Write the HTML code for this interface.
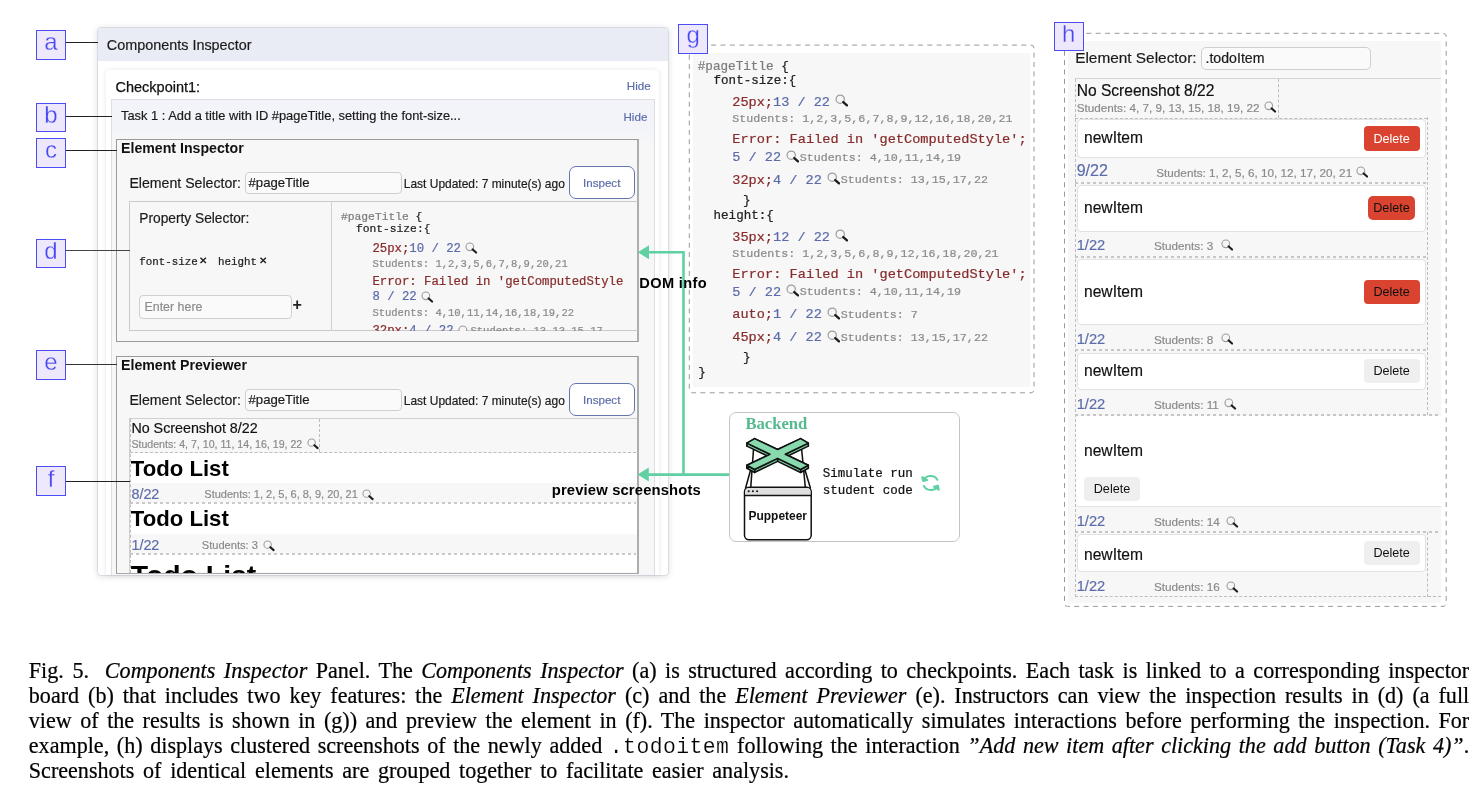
<!DOCTYPE html>
<html><head><meta charset="utf-8"><title>Fig 5</title>
<style>
html,body{margin:0;padding:0;background:#fff;font-family:"Liberation Sans",sans-serif;}
body{width:1482px;height:798px;position:relative;overflow:hidden;font-family:"Liberation Sans",sans-serif;}
body div, body svg{position:absolute;}
.t{white-space:pre;}
.t span, div span, div i{position:static;}
</style></head><body><div id="root" style="left:0;top:0;width:1482px;height:798px;will-change:transform;">
<div class="" style="left:97.00px;top:27.00px;width:572.00px;height:549.00px;background:#fff;border:1px solid #d9dbe2;border-radius:4px;box-sizing:border-box;box-shadow:0 1px 6px rgba(0,0,0,.12);overflow:hidden;"><div style="position:absolute;left:0;top:0;right:0;height:33px;background:#e9ecf4"></div></div>
<div class="t" style="left:106.80px;top:38.31px;font:normal 14.4px/14.4px 'Liberation Sans', sans-serif;color:#1a1a1a;-webkit-text-stroke:.18px;">Components Inspector</div>
<div class="" style="left:106.30px;top:69.70px;width:553.10px;height:505.30px;background:#fff;border-radius:4px 4px 0 0;box-shadow:0 0 5px rgba(0,0,0,.10);"></div>
<div class="t" style="left:115.50px;top:79.63px;font:normal 14.5px/14.5px 'Liberation Sans', sans-serif;color:#111;-webkit-text-stroke:.25px #111;">Checkpoint1:</div>
<div class="t" style="left:626.80px;top:80.38px;font:normal 11.6px/11.6px 'Liberation Sans', sans-serif;color:#5c6caa;-webkit-text-stroke:.18px;">Hide</div>
<div class="" style="left:111.00px;top:99.00px;width:544.00px;height:476.00px;background:linear-gradient(#f3f4f9 0,#f3f4f9 30px,#f7f7f8 42px);border:1px solid #dddde2;border-bottom:none;box-sizing:border-box;"></div>
<div class="t" style="left:121.00px;top:109.71px;font:normal 12.87px/12.87px 'Liberation Sans', sans-serif;color:#1a1a1a;-webkit-text-stroke:.18px;">Task 1 : Add a title with ID #pageTitle, setting the font-size...</div>
<div class="t" style="left:623.50px;top:110.58px;font:normal 11.6px/11.6px 'Liberation Sans', sans-serif;color:#5c6caa;-webkit-text-stroke:.18px;">Hide</div>
<div class="" style="left:116.00px;top:139.00px;width:522.60px;height:203.00px;background:#f7f7f7;border:1px solid #9a9a9a;border-right:2px solid #adadad;box-sizing:border-box;"></div>
<div class="t" style="left:121.00px;top:141.41px;font:bold 14.16px/14.16px 'Liberation Sans', sans-serif;color:#111;">Element Inspector</div>
<div class="t" style="left:129.40px;top:175.84px;font:normal 14.13px/14.13px 'Liberation Sans', sans-serif;color:#1a1a1a;-webkit-text-stroke:.18px;">Element Selector:</div>
<div class="" style="left:245.40px;top:172.00px;width:156.60px;height:21.60px;background:#fafafa;border:1px solid #cfcfcf;border-radius:4px;box-sizing:border-box;"></div>
<div class="t" style="left:248.50px;top:176.15px;font:normal 13.17px/13.17px 'Liberation Sans', sans-serif;color:#1a1a1a;-webkit-text-stroke:.18px;">#pageTitle</div>
<div class="t" style="left:403.80px;top:177.76px;font:normal 11.98px/11.98px 'Liberation Sans', sans-serif;color:#1a1a1a;-webkit-text-stroke:.18px;">Last Updated: 7 minute(s) ago</div>
<div class="" style="left:568.50px;top:166.00px;width:66.10px;height:32.60px;background:#fff;border:1.8px solid #6575ae;border-radius:7px;box-sizing:border-box;"></div>
<div class="t" style="left:583.00px;top:176.78px;font:normal 11.6px/11.6px 'Liberation Sans', sans-serif;color:#5c6caa;-webkit-text-stroke:.18px;">Inspect</div>
<div class="" style="left:129.40px;top:200.70px;width:508.60px;height:130.30px;border:1px solid #c9c9c9;border-right:none;box-sizing:border-box;"></div>
<div class="" style="left:331.00px;top:201.00px;width:1.00px;height:130.00px;background:#d2d2d2;"></div>
<div class="t" style="left:139.30px;top:211.87px;font:normal 13.74px/13.74px 'Liberation Sans', sans-serif;color:#1a1a1a;-webkit-text-stroke:.18px;">Property Selector:</div>
<div class="t" style="left:139.30px;top:256.68px;font:normal 10.85px/10.85px 'Liberation Mono', monospace;color:#222;-webkit-text-stroke:.22px;">font-size</div>
<div class="t" style="left:199.30px;top:256.00px;font:bold 10.4px/10.4px 'Liberation Sans', sans-serif;color:#222;">&#10005;</div>
<div class="t" style="left:218.00px;top:256.68px;font:normal 10.85px/10.85px 'Liberation Mono', monospace;color:#222;-webkit-text-stroke:.22px;">height</div>
<div class="t" style="left:258.50px;top:256.00px;font:bold 10.4px/10.4px 'Liberation Sans', sans-serif;color:#222;">&#10005;</div>
<div class="" style="left:139.30px;top:294.60px;width:152.40px;height:24.40px;background:#fafafa;border:1px solid #cfcfcf;border-radius:4px;box-sizing:border-box;"></div>
<div class="t" style="left:144.50px;top:300.99px;font:normal 12.42px/12.42px 'Liberation Sans', sans-serif;color:#8b8b8b;-webkit-text-stroke:.18px;">Enter here</div>
<div class="t" style="left:292.60px;top:297.06px;font:bold 16px/16px 'Liberation Sans', sans-serif;color:#222;">+</div>
<div class="a" style="left:333px;top:201px;width:304px;height:129.6px;overflow:hidden">
<div class="t" style="left:8.00px;top:10.74px;font:normal 11.3px/11.3px 'Liberation Mono', monospace;color:#222;-webkit-text-stroke:.22px;"><span style="color:#7d7d7d">#pageTitle</span> {</div>
<div class="t" style="left:22.90px;top:23.44px;font:normal 11.3px/11.3px 'Liberation Mono', monospace;color:#222;-webkit-text-stroke:.22px;">font-size:{</div>
<div class="t" style="left:39.40px;top:41.57px;font:normal 12.3px/12.3px 'Liberation Mono', monospace;color:#222;-webkit-text-stroke:.22px;"><span style="color:#882c2c">25px;</span><span style="color:#5c6caa">10 / 22</span></div>
<div class="t" style="left:39.40px;top:58.35px;font:normal 10.5px/10.5px 'Liberation Mono', monospace;color:#8a8a8a;-webkit-text-stroke:.22px;">Students: 1,2,3,5,6,7,8,9,20,21</div>
<div class="t" style="left:39.40px;top:75.37px;font:normal 12.3px/12.3px 'Liberation Mono', monospace;color:#882c2c;-webkit-text-stroke:.22px;">Error: Failed in 'getComputedStyle</div>
<div class="t" style="left:39.40px;top:90.37px;font:normal 12.3px/12.3px 'Liberation Mono', monospace;color:#5c6caa;-webkit-text-stroke:.22px;">8 / 22</div>
<div class="t" style="left:39.40px;top:106.95px;font:normal 10.5px/10.5px 'Liberation Mono', monospace;color:#8a8a8a;-webkit-text-stroke:.22px;">Students: 4,10,11,14,16,18,19,22</div>
<div class="t" style="left:39.40px;top:123.77px;font:normal 12.3px/12.3px 'Liberation Mono', monospace;color:#222;-webkit-text-stroke:.22px;"><span style="color:#882c2c">32px;</span><span style="color:#5c6caa">4 / 22</span></div>
<div class="t" style="left:137.50px;top:125.15px;font:normal 10.5px/10.5px 'Liberation Mono', monospace;color:#8a8a8a;-webkit-text-stroke:.22px;">Students: 13,13,15,17</div>
<svg class="a" style="left:125.00px;top:123.50px" width="12.5" height="12.5" viewBox="0 0 14 14"><circle cx="5.4" cy="5.4" r="4.3" fill="#f6f6f6" stroke="#9d9d9d" stroke-width="1.25"/><path d="M8.6 8.4 L12.4 11.8" stroke="#1c1c1c" stroke-width="2.4" stroke-linecap="round"/></svg>
</div>
<svg class="a" style="left:465.00px;top:241.50px" width="12.5" height="12.5" viewBox="0 0 14 14"><circle cx="5.4" cy="5.4" r="4.3" fill="#f6f6f6" stroke="#9d9d9d" stroke-width="1.25"/><path d="M8.6 8.4 L12.4 11.8" stroke="#1c1c1c" stroke-width="2.4" stroke-linecap="round"/></svg>
<svg class="a" style="left:421.00px;top:290.50px" width="12.5" height="12.5" viewBox="0 0 14 14"><circle cx="5.4" cy="5.4" r="4.3" fill="#f6f6f6" stroke="#9d9d9d" stroke-width="1.25"/><path d="M8.6 8.4 L12.4 11.8" stroke="#1c1c1c" stroke-width="2.4" stroke-linecap="round"/></svg>
<div class="" style="left:116.00px;top:356.00px;width:522.60px;height:217.50px;background:#f7f7f7;border:1px solid #9a9a9a;border-right:2px solid #adadad;border-bottom:1.5px solid #a8a8a8;box-sizing:border-box;"></div>
<div class="t" style="left:121.00px;top:358.01px;font:bold 14.16px/14.16px 'Liberation Sans', sans-serif;color:#111;">Element Previewer</div>
<div class="t" style="left:129.40px;top:392.64px;font:normal 14.13px/14.13px 'Liberation Sans', sans-serif;color:#1a1a1a;-webkit-text-stroke:.18px;">Element Selector:</div>
<div class="" style="left:245.40px;top:389.20px;width:156.60px;height:21.60px;background:#fafafa;border:1px solid #cfcfcf;border-radius:4px;box-sizing:border-box;"></div>
<div class="t" style="left:248.50px;top:393.05px;font:normal 13.17px/13.17px 'Liberation Sans', sans-serif;color:#1a1a1a;-webkit-text-stroke:.18px;">#pageTitle</div>
<div class="t" style="left:403.80px;top:395.06px;font:normal 11.98px/11.98px 'Liberation Sans', sans-serif;color:#1a1a1a;-webkit-text-stroke:.18px;">Last Updated: 7 minute(s) ago</div>
<div class="" style="left:568.50px;top:383.40px;width:66.10px;height:32.60px;background:#fff;border:1.8px solid #6575ae;border-radius:7px;box-sizing:border-box;"></div>
<div class="t" style="left:583.00px;top:394.18px;font:normal 11.6px/11.6px 'Liberation Sans', sans-serif;color:#5c6caa;-webkit-text-stroke:.18px;">Inspect</div>
<div class="a" style="left:129.4px;top:418px;width:508px;height:155px;overflow:hidden;border-top:1px solid #cfcfcf;border-left:1px solid #cfcfcf;box-sizing:border-box">
</div>
<div class="" style="left:130.40px;top:452.50px;width:506.60px;height:30.20px;background:#fff;"></div>
<div class="" style="left:130.40px;top:503.30px;width:506.60px;height:30.70px;background:#fff;"></div>
<div class="" style="left:130.40px;top:554.20px;width:506.60px;height:18.30px;background:#fff;"></div>
<div class="a" style="left:130px;top:451.6px;width:506px;height:0;border-top:1px dashed #bdbdbd"></div>
<div class="a" style="left:130px;top:501.80px;width:506px;height:2px;background:repeating-linear-gradient(90deg,#cacaca 0 3px,transparent 3px 6px)"></div>
<div class="a" style="left:130px;top:552.70px;width:506px;height:2px;background:repeating-linear-gradient(90deg,#cacaca 0 3px,transparent 3px 6px)"></div>
<div class="a" style="left:319.1px;top:418.5px;height:33.5px;width:0;border-left:1px dashed #bdbdbd"></div>
<div class="a" style="left:129.5px;top:418.5px;height:154.5px;width:0;border-left:1px dashed #bdbdbd"></div>
<div class="t" style="left:131.40px;top:420.90px;font:normal 14.29px/14.29px 'Liberation Sans', sans-serif;color:#111;-webkit-text-stroke:.18px;">No Screenshot 8/22</div>
<div class="t" style="left:131.40px;top:438.61px;font:normal 10.62px/10.62px 'Liberation Sans', sans-serif;color:#8a8a8a;-webkit-text-stroke:.18px;">Students: 4, 7, 10, 11, 14, 16, 19, 22</div>
<svg class="a" style="left:307.00px;top:437.50px" width="12" height="12" viewBox="0 0 14 14"><circle cx="5.4" cy="5.4" r="4.3" fill="#f6f6f6" stroke="#9d9d9d" stroke-width="1.25"/><path d="M8.6 8.4 L12.4 11.8" stroke="#1c1c1c" stroke-width="2.4" stroke-linecap="round"/></svg>
<div class="t" style="left:130.80px;top:457.55px;font:bold 22.15px/22.15px 'Liberation Sans', sans-serif;color:#000;">Todo List</div>
<div class="t" style="left:131.40px;top:487.32px;font:normal 14.39px/14.39px 'Liberation Sans', sans-serif;color:#5c6caa;-webkit-text-stroke:.18px;">8/22</div>
<div class="t" style="left:204.30px;top:489.29px;font:normal 11.0px/11.0px 'Liberation Sans', sans-serif;color:#8a8a8a;-webkit-text-stroke:.18px;">Students: 1, 2, 5, 6, 8, 9, 20, 21</div>
<svg class="a" style="left:361.50px;top:488.50px" width="12" height="12" viewBox="0 0 14 14"><circle cx="5.4" cy="5.4" r="4.3" fill="#f6f6f6" stroke="#9d9d9d" stroke-width="1.25"/><path d="M8.6 8.4 L12.4 11.8" stroke="#1c1c1c" stroke-width="2.4" stroke-linecap="round"/></svg>
<div class="t" style="left:130.80px;top:508.45px;font:bold 22.15px/22.15px 'Liberation Sans', sans-serif;color:#000;">Todo List</div>
<div class="t" style="left:131.40px;top:538.22px;font:normal 14.39px/14.39px 'Liberation Sans', sans-serif;color:#5c6caa;-webkit-text-stroke:.18px;">1/22</div>
<div class="t" style="left:201.80px;top:540.40px;font:normal 11.1px/11.1px 'Liberation Sans', sans-serif;color:#8a8a8a;-webkit-text-stroke:.18px;">Students: 3</div>
<svg class="a" style="left:263.00px;top:539.50px" width="12" height="12" viewBox="0 0 14 14"><circle cx="5.4" cy="5.4" r="4.3" fill="#f6f6f6" stroke="#9d9d9d" stroke-width="1.25"/><path d="M8.6 8.4 L12.4 11.8" stroke="#1c1c1c" stroke-width="2.4" stroke-linecap="round"/></svg>
<div class="a" style="left:130.4px;top:554.5px;width:300px;height:18px;overflow:hidden">
<div class="t" style="left:0.30px;top:6.96px;font:bold 28.4px/28.4px 'Liberation Sans', sans-serif;color:#000;">Todo List</div>
</div>
<svg class="a" style="left:630px;top:240px" width="110" height="245" viewBox="630 240 110 245"><path d="M648 252.3 H683.5 V474.6 M648 474.6 H729.5" fill="none" stroke="#5fd0a2" stroke-width="2.6"/><path d="M637.9 252.3 L649 245.3 V259.3 Z M637.6 474.6 L648.8 467.6 V481.6 Z" fill="#5fd0a2"/></svg>
<div class="t" style="left:551.80px;top:482.77px;font:bold 14.8px/14.8px 'Liberation Sans', sans-serif;color:#000;letter-spacing:.14px;">preview screenshots</div>
<div class="" style="left:678.30px;top:24.40px;width:29.70px;height:29.20px;background:#eee8fc;border:1.5px solid #4d4df6;box-sizing:border-box;"></div>
<div class="t" style="left:678.30px;width:29.70px;text-align:center;top:23.40px;font:normal 24px/24px 'Liberation Sans', sans-serif;color:#4646f2;-webkit-text-stroke:.3px #eee8fc;">g</div>
<svg class="a" style="left:685px;top:40px" width="355" height="358" viewBox="685 40 355 358"><rect x="689.3" y="45.1" width="344.7" height="347.7" rx="3" fill="none" stroke="#999" stroke-width="1" stroke-dasharray="5 4.4"/></svg>
<div class="" style="left:693.00px;top:52.80px;width:337.00px;height:333.90px;background:#f7f7f7;"></div>
<div class="" style="left:678.30px;top:24.40px;width:29.70px;height:29.20px;background:#eee8fc;border:1.5px solid #4d4df6;box-sizing:border-box;"></div>
<div class="t" style="left:678.30px;width:29.70px;text-align:center;top:23.40px;font:normal 24px/24px 'Liberation Sans', sans-serif;color:#4646f2;-webkit-text-stroke:.3px #eee8fc;">g</div>
<div class="t" style="left:697.70px;top:60.79px;font:normal 12.67px/12.67px 'Liberation Mono', monospace;color:#222;-webkit-text-stroke:.22px;"><span style="color:#7d7d7d">#pageTitle</span> {</div>
<div class="t" style="left:713.60px;top:75.30px;font:normal 12.53px/12.53px 'Liberation Mono', monospace;color:#222;-webkit-text-stroke:.22px;">font-size:{</div>
<div class="t" style="left:732.30px;top:96.00px;font:normal 13.57px/13.57px 'Liberation Mono', monospace;color:#222;-webkit-text-stroke:.22px;"><span style="color:#882c2c">25px;</span><span style="color:#5c6caa">13 / 22</span></div>
<svg class="a" style="left:834.60px;top:94.30px" width="13.5" height="13.5" viewBox="0 0 14 14"><circle cx="5.4" cy="5.4" r="4.3" fill="#f6f6f6" stroke="#9d9d9d" stroke-width="1.25"/><path d="M8.6 8.4 L12.4 11.8" stroke="#1c1c1c" stroke-width="2.4" stroke-linecap="round"/></svg>
<div class="t" style="left:732.30px;top:114.35px;font:normal 11.68px/11.68px 'Liberation Mono', monospace;color:#8a8a8a;-webkit-text-stroke:.22px;">Students: 1,2,3,5,6,7,8,9,12,16,18,20,21</div>
<div class="t" style="left:732.30px;top:133.35px;font:normal 13.63px/13.63px 'Liberation Mono', monospace;color:#882c2c;-webkit-text-stroke:.22px;">Error: Failed in 'getComputedStyle';</div>
<div class="t" style="left:732.30px;top:151.10px;font:normal 13.57px/13.57px 'Liberation Mono', monospace;color:#5c6caa;-webkit-text-stroke:.22px;">5 / 22</div>
<svg class="a" style="left:785.50px;top:149.50px" width="13.5" height="13.5" viewBox="0 0 14 14"><circle cx="5.4" cy="5.4" r="4.3" fill="#f6f6f6" stroke="#9d9d9d" stroke-width="1.25"/><path d="M8.6 8.4 L12.4 11.8" stroke="#1c1c1c" stroke-width="2.4" stroke-linecap="round"/></svg>
<div class="t" style="left:799.80px;top:152.55px;font:normal 11.68px/11.68px 'Liberation Mono', monospace;color:#8a8a8a;-webkit-text-stroke:.22px;">Students: 4,10,11,14,19</div>
<div class="t" style="left:732.30px;top:173.70px;font:normal 13.57px/13.57px 'Liberation Mono', monospace;color:#222;-webkit-text-stroke:.22px;"><span style="color:#882c2c">32px;</span><span style="color:#5c6caa">4 / 22</span></div>
<svg class="a" style="left:826.50px;top:172.00px" width="13.5" height="13.5" viewBox="0 0 14 14"><circle cx="5.4" cy="5.4" r="4.3" fill="#f6f6f6" stroke="#9d9d9d" stroke-width="1.25"/><path d="M8.6 8.4 L12.4 11.8" stroke="#1c1c1c" stroke-width="2.4" stroke-linecap="round"/></svg>
<div class="t" style="left:840.80px;top:175.15px;font:normal 11.68px/11.68px 'Liberation Mono', monospace;color:#8a8a8a;-webkit-text-stroke:.22px;">Students: 13,15,17,22</div>
<div class="t" style="left:743.00px;top:194.50px;font:normal 12.53px/12.53px 'Liberation Mono', monospace;color:#222;-webkit-text-stroke:.22px;">}</div>
<div class="t" style="left:713.60px;top:210.40px;font:normal 12.53px/12.53px 'Liberation Mono', monospace;color:#222;-webkit-text-stroke:.22px;">height:{</div>
<div class="t" style="left:732.30px;top:230.60px;font:normal 13.57px/13.57px 'Liberation Mono', monospace;color:#222;-webkit-text-stroke:.22px;"><span style="color:#882c2c">35px;</span><span style="color:#5c6caa">12 / 22</span></div>
<svg class="a" style="left:834.60px;top:229.00px" width="13.5" height="13.5" viewBox="0 0 14 14"><circle cx="5.4" cy="5.4" r="4.3" fill="#f6f6f6" stroke="#9d9d9d" stroke-width="1.25"/><path d="M8.6 8.4 L12.4 11.8" stroke="#1c1c1c" stroke-width="2.4" stroke-linecap="round"/></svg>
<div class="t" style="left:732.30px;top:249.25px;font:normal 11.68px/11.68px 'Liberation Mono', monospace;color:#8a8a8a;-webkit-text-stroke:.22px;">Students: 1,2,3,5,6,8,9,12,16,18,20,21</div>
<div class="t" style="left:732.30px;top:268.25px;font:normal 13.63px/13.63px 'Liberation Mono', monospace;color:#882c2c;-webkit-text-stroke:.22px;">Error: Failed in 'getComputedStyle';</div>
<div class="t" style="left:732.30px;top:285.80px;font:normal 13.57px/13.57px 'Liberation Mono', monospace;color:#5c6caa;-webkit-text-stroke:.22px;">5 / 22</div>
<svg class="a" style="left:785.50px;top:284.20px" width="13.5" height="13.5" viewBox="0 0 14 14"><circle cx="5.4" cy="5.4" r="4.3" fill="#f6f6f6" stroke="#9d9d9d" stroke-width="1.25"/><path d="M8.6 8.4 L12.4 11.8" stroke="#1c1c1c" stroke-width="2.4" stroke-linecap="round"/></svg>
<div class="t" style="left:799.80px;top:287.25px;font:normal 11.68px/11.68px 'Liberation Mono', monospace;color:#8a8a8a;-webkit-text-stroke:.22px;">Students: 4,10,11,14,19</div>
<div class="t" style="left:732.30px;top:308.30px;font:normal 13.57px/13.57px 'Liberation Mono', monospace;color:#222;-webkit-text-stroke:.22px;"><span style="color:#882c2c">auto;</span><span style="color:#5c6caa">1 / 22</span></div>
<svg class="a" style="left:826.50px;top:306.70px" width="13.5" height="13.5" viewBox="0 0 14 14"><circle cx="5.4" cy="5.4" r="4.3" fill="#f6f6f6" stroke="#9d9d9d" stroke-width="1.25"/><path d="M8.6 8.4 L12.4 11.8" stroke="#1c1c1c" stroke-width="2.4" stroke-linecap="round"/></svg>
<div class="t" style="left:840.80px;top:309.75px;font:normal 11.68px/11.68px 'Liberation Mono', monospace;color:#8a8a8a;-webkit-text-stroke:.22px;">Students: 7</div>
<div class="t" style="left:732.30px;top:331.10px;font:normal 13.57px/13.57px 'Liberation Mono', monospace;color:#222;-webkit-text-stroke:.22px;"><span style="color:#882c2c">45px;</span><span style="color:#5c6caa">4 / 22</span></div>
<svg class="a" style="left:826.50px;top:329.50px" width="13.5" height="13.5" viewBox="0 0 14 14"><circle cx="5.4" cy="5.4" r="4.3" fill="#f6f6f6" stroke="#9d9d9d" stroke-width="1.25"/><path d="M8.6 8.4 L12.4 11.8" stroke="#1c1c1c" stroke-width="2.4" stroke-linecap="round"/></svg>
<div class="t" style="left:840.80px;top:332.55px;font:normal 11.68px/11.68px 'Liberation Mono', monospace;color:#8a8a8a;-webkit-text-stroke:.22px;">Students: 13,15,17,22</div>
<div class="t" style="left:743.00px;top:351.90px;font:normal 12.53px/12.53px 'Liberation Mono', monospace;color:#222;-webkit-text-stroke:.22px;">}</div>
<div class="t" style="left:698.20px;top:367.40px;font:normal 12.53px/12.53px 'Liberation Mono', monospace;color:#222;-webkit-text-stroke:.22px;">}</div>
<div class="t" style="left:639.30px;top:276.44px;font:bold 14.6px/14.6px 'Liberation Sans', sans-serif;color:#000;letter-spacing:.35px;">DOM info</div>
<div class="" style="left:729.20px;top:412.00px;width:230.80px;height:130.20px;background:#fff;border:1px solid #c4c4c4;border-radius:7px;box-sizing:border-box;"></div>
<div class="t" style="left:745.40px;top:415.56px;font:bold 16.65px/16.65px 'Liberation Serif', serif;color:#56b98f;">Backend</div>
<svg class="a" style="left:738px;top:432px" width="80" height="112" viewBox="738 432 80 112">
<g stroke="#111" stroke-width="1.55" stroke-linejoin="round" stroke-linecap="round">
<path d="M753.6 448 L750.8 487 M750.6 470 L745.6 488 M801.5 448 L805.3 487 M805 470 L810.4 488" fill="none"/>
<path d="M746.9 443.1 L754.6 438.6 L754.6 441.6 L746.9 446.1 Z" fill="#76cb9f"/><path d="M754.6 438.6 L777.6 449.5 L777.6 452.5 L754.6 441.6 Z" fill="#76cb9f"/><path d="M777.6 449.5 L800.6 438.6 L800.6 441.6 L777.6 452.5 Z" fill="#76cb9f"/><path d="M800.6 438.6 L808.3 443.1 L808.3 446.1 L800.6 441.6 Z" fill="#76cb9f"/><path d="M808.3 443.1 L785.3 454.3 L785.3 457.3 L808.3 446.1 Z" fill="#76cb9f"/><path d="M785.3 454.3 L808.3 465.2 L808.3 468.2 L785.3 457.3 Z" fill="#76cb9f"/><path d="M808.3 465.2 L800.6 469.5 L800.6 472.5 L808.3 468.2 Z" fill="#76cb9f"/><path d="M800.6 469.5 L777.6 458.4 L777.6 461.4 L800.6 472.5 Z" fill="#76cb9f"/><path d="M777.6 458.4 L754.6 469.5 L754.6 472.5 L777.6 461.4 Z" fill="#76cb9f"/><path d="M754.6 469.5 L746.9 465.2 L746.9 468.2 L754.6 472.5 Z" fill="#76cb9f"/><path d="M746.9 465.2 L769.9 454.3 L769.9 457.3 L746.9 468.2 Z" fill="#76cb9f"/><path d="M769.9 454.3 L746.9 443.1 L746.9 446.1 L769.9 457.3 Z" fill="#76cb9f"/>
<path d="M746.9 443.1 L754.6 438.6 L777.6 449.5 L800.6 438.6 L808.3 443.1 L785.3 454.3 L808.3 465.2 L800.6 469.5 L777.6 458.4 L754.6 469.5 L746.9 465.2 L769.9 454.3 Z" fill="#88d9ae"/>
</g>
<rect x="744.5" y="487.2" width="66.7" height="52.6" rx="4.5" fill="#fff" stroke="#111" stroke-width="1.5"/>
<path d="M745.3 495.3 V491.5 a3.6 3.6 0 0 1 3.6 -3.6 H806.8 a3.6 3.6 0 0 1 3.6 3.6 V495.3 Z" fill="#dedede"/>
<path d="M744.5 495.5 H811.2" stroke="#111" stroke-width="1.3"/>
<circle cx="748.7" cy="491.3" r="1.05" fill="#111"/><circle cx="752.9" cy="491.3" r="1.05" fill="#111"/><circle cx="757.1" cy="491.3" r="1.05" fill="#111"/>
</svg>
<div class="t" style="left:748.50px;top:511.08px;font:bold 11.96px/11.96px 'Liberation Sans', sans-serif;color:#111;">Puppeteer</div>
<div class="t" style="left:822.80px;top:468.12px;font:normal 12.5px/12.5px 'Liberation Mono', monospace;color:#111;-webkit-text-stroke:.22px;">Simulate run</div>
<div class="t" style="left:822.80px;top:485.12px;font:normal 12.5px/12.5px 'Liberation Mono', monospace;color:#111;-webkit-text-stroke:.22px;">student code</div>
<svg class="a" style="left:920px;top:473px" width="21" height="21" viewBox="0 0 21 21"><g fill="none" stroke="#5fd0a2" stroke-width="2" stroke-linecap="round" stroke-linejoin="round">
<path d="M3.4 7.4 A7.6 6.7 0 0 1 17.4 6.8"/><path d="M17.6 13.2 A7.6 6.7 0 0 1 3.8 12.9"/>
<path d="M2.2 4.2 L3.3 8 L7.2 7 Z" fill="#5fd0a2"/><path d="M18.8 16.6 L17.8 12.6 L13.9 13.6 Z" fill="#5fd0a2"/></g></svg>
<svg class="a" style="left:1060px;top:28px" width="392" height="584" viewBox="1060 28 392 584"><rect x="1064.5" y="33.3" width="381.7" height="573.1" rx="3" fill="none" stroke="#999" stroke-width="1" stroke-dasharray="5 4.4"/></svg>
<div class="" style="left:1068.30px;top:41.30px;width:372.70px;height:561.50px;background:#f7f7f7;"></div>
<div class="" style="left:1054.00px;top:21.90px;width:29.50px;height:29.30px;background:#eee8fc;border:1.5px solid #4d4df6;box-sizing:border-box;"></div>
<div class="t" style="left:1054.00px;width:29.50px;text-align:center;top:21.95px;font:normal 24px/24px 'Liberation Sans', sans-serif;color:#4646f2;-webkit-text-stroke:.3px #eee8fc;">h</div>
<div class="t" style="left:1075.20px;top:49.78px;font:normal 15.38px/15.38px 'Liberation Sans', sans-serif;color:#1a1a1a;-webkit-text-stroke:.18px;">Element Selector:</div>
<div class="" style="left:1201.00px;top:46.80px;width:170.00px;height:23.60px;background:#fafafa;border:1px solid #cfcfcf;border-radius:5px;box-sizing:border-box;"></div>
<div class="t" style="left:1205.50px;top:51.12px;font:normal 14.15px/14.15px 'Liberation Sans', sans-serif;color:#1a1a1a;-webkit-text-stroke:.18px;">.todoItem</div>
<div class="" style="left:1075.00px;top:78.10px;width:366.00px;height:1.00px;background:#d4d4d4;"></div>
<div class="t" style="left:1076.70px;top:83.00px;font:normal 15.59px/15.59px 'Liberation Sans', sans-serif;color:#111;-webkit-text-stroke:.18px;">No Screenshot 8/22</div>
<div class="t" style="left:1076.70px;top:102.09px;font:normal 11.71px/11.71px 'Liberation Sans', sans-serif;color:#8a8a8a;-webkit-text-stroke:.18px;">Students: 4, 7, 9, 13, 15, 18, 19, 22</div>
<svg class="a" style="left:1264.00px;top:100.80px" width="12.5" height="12.5" viewBox="0 0 14 14"><circle cx="5.4" cy="5.4" r="4.3" fill="#f6f6f6" stroke="#9d9d9d" stroke-width="1.25"/><path d="M8.6 8.4 L12.4 11.8" stroke="#1c1c1c" stroke-width="2.4" stroke-linecap="round"/></svg>
<div class="a" style="left:1074.7px;top:79px;height:518px;width:0;border-left:1px dashed #bdbdbd"></div>
<div class="a" style="left:1278.0px;top:79px;height:39px;width:0;border-left:1px dashed #bdbdbd"></div>
<div class="a" style="left:1075.2px;top:117.5px;width:351.79999999999995px;height:0;border-top:1px dashed #bdbdbd"></div>
<div class="a" style="left:1426.5px;top:117px;height:298px;width:0;border-left:1px dashed #bdbdbd"></div>
<div class="a" style="left:1427.0px;top:532px;height:65px;width:0;border-left:1px dashed #bdbdbd"></div>
<div class="" style="left:1077.30px;top:118.90px;width:349.20px;height:38.70px;background:#fff;border:1px solid #e2e2e2;border-radius:4px;box-sizing:border-box;"></div>
<div class="t" style="left:1084.00px;top:129.59px;font:normal 15.61px/15.61px 'Liberation Sans', sans-serif;color:#111;-webkit-text-stroke:.18px;">newItem</div>
<div class="" style="left:1363.60px;top:126.30px;width:56.10px;height:24.50px;background:#d9432f;border-radius:4px;"></div>
<div class="t" style="left:1363.60px;width:56.10px;text-align:center;top:132.54px;font:normal 12.63px/12.63px 'Liberation Sans', sans-serif;color:#fff;">Delete</div>
<div class="t" style="left:1076.70px;top:163.46px;font:normal 16.0px/16.0px 'Liberation Sans', sans-serif;color:#5c6caa;-webkit-text-stroke:.18px;">9/22</div>
<div class="t" style="left:1156.30px;top:166.59px;font:normal 11.71px/11.71px 'Liberation Sans', sans-serif;color:#8a8a8a;-webkit-text-stroke:.18px;">Students: 1, 2, 5, 6, 10, 12, 17, 20, 21</div>
<svg class="a" style="left:1355.80px;top:165.80px" width="12.5" height="12.5" viewBox="0 0 14 14"><circle cx="5.4" cy="5.4" r="4.3" fill="#f6f6f6" stroke="#9d9d9d" stroke-width="1.25"/><path d="M8.6 8.4 L12.4 11.8" stroke="#1c1c1c" stroke-width="2.4" stroke-linecap="round"/></svg>
<div class="a" style="left:1075.2px;top:182.00px;width:351.79999999999995px;height:2px;background:repeating-linear-gradient(90deg,#c6c6c6 0 3px,transparent 3px 6px)"></div>
<div class="" style="left:1077.30px;top:185.40px;width:349.20px;height:47.00px;background:#fff;border:1px solid #e2e2e2;border-radius:4px;box-sizing:border-box;"></div>
<div class="t" style="left:1084.00px;top:200.29px;font:normal 15.61px/15.61px 'Liberation Sans', sans-serif;color:#111;-webkit-text-stroke:.18px;">newItem</div>
<div class="" style="left:1368.00px;top:195.80px;width:47.00px;height:24.50px;background:#d9432f;border-radius:5px;"></div>
<div class="t" style="left:1368.00px;width:47.00px;text-align:center;top:202.04px;font:normal 12.63px/12.63px 'Liberation Sans', sans-serif;color:#111;">Delete</div>
<div class="t" style="left:1076.70px;top:237.86px;font:normal 14.7px/14.7px 'Liberation Sans', sans-serif;color:#5c6caa;-webkit-text-stroke:.18px;">1/22</div>
<div class="t" style="left:1154.00px;top:239.89px;font:normal 11.71px/11.71px 'Liberation Sans', sans-serif;color:#8a8a8a;-webkit-text-stroke:.18px;">Students: 3</div>
<svg class="a" style="left:1220.80px;top:239.10px" width="12.5" height="12.5" viewBox="0 0 14 14"><circle cx="5.4" cy="5.4" r="4.3" fill="#f6f6f6" stroke="#9d9d9d" stroke-width="1.25"/><path d="M8.6 8.4 L12.4 11.8" stroke="#1c1c1c" stroke-width="2.4" stroke-linecap="round"/></svg>
<div class="a" style="left:1075.2px;top:255.80px;width:351.79999999999995px;height:2px;background:repeating-linear-gradient(90deg,#c6c6c6 0 3px,transparent 3px 6px)"></div>
<div class="" style="left:1077.30px;top:259.20px;width:349.20px;height:65.60px;background:#fff;border:1px solid #e2e2e2;border-radius:4px;box-sizing:border-box;"></div>
<div class="t" style="left:1084.00px;top:283.99px;font:normal 15.61px/15.61px 'Liberation Sans', sans-serif;color:#111;-webkit-text-stroke:.18px;">newItem</div>
<div class="" style="left:1363.60px;top:279.50px;width:56.10px;height:24.10px;background:#d9432f;border-radius:4px;"></div>
<div class="t" style="left:1363.60px;width:56.10px;text-align:center;top:285.54px;font:normal 12.63px/12.63px 'Liberation Sans', sans-serif;color:#111;">Delete</div>
<div class="t" style="left:1076.70px;top:331.76px;font:normal 14.7px/14.7px 'Liberation Sans', sans-serif;color:#5c6caa;-webkit-text-stroke:.18px;">1/22</div>
<div class="t" style="left:1154.00px;top:333.79px;font:normal 11.71px/11.71px 'Liberation Sans', sans-serif;color:#8a8a8a;-webkit-text-stroke:.18px;">Students: 8</div>
<svg class="a" style="left:1220.80px;top:333.00px" width="12.5" height="12.5" viewBox="0 0 14 14"><circle cx="5.4" cy="5.4" r="4.3" fill="#f6f6f6" stroke="#9d9d9d" stroke-width="1.25"/><path d="M8.6 8.4 L12.4 11.8" stroke="#1c1c1c" stroke-width="2.4" stroke-linecap="round"/></svg>
<div class="a" style="left:1075.2px;top:348.60px;width:351.79999999999995px;height:2px;background:repeating-linear-gradient(90deg,#c6c6c6 0 3px,transparent 3px 6px)"></div>
<div class="" style="left:1077.30px;top:352.60px;width:349.20px;height:37.80px;background:#fff;border:1px solid #e2e2e2;border-radius:4px;box-sizing:border-box;"></div>
<div class="t" style="left:1084.00px;top:362.99px;font:normal 15.61px/15.61px 'Liberation Sans', sans-serif;color:#111;-webkit-text-stroke:.18px;">newItem</div>
<div class="" style="left:1363.60px;top:359.00px;width:56.10px;height:24.00px;background:#efefef;border-radius:4px;"></div>
<div class="t" style="left:1363.60px;width:56.10px;text-align:center;top:364.99px;font:normal 12.63px/12.63px 'Liberation Sans', sans-serif;color:#111;">Delete</div>
<div class="t" style="left:1076.70px;top:396.76px;font:normal 14.7px/14.7px 'Liberation Sans', sans-serif;color:#5c6caa;-webkit-text-stroke:.18px;">1/22</div>
<div class="t" style="left:1154.00px;top:398.79px;font:normal 11.71px/11.71px 'Liberation Sans', sans-serif;color:#8a8a8a;-webkit-text-stroke:.18px;">Students: 11</div>
<svg class="a" style="left:1224.30px;top:398.00px" width="12.5" height="12.5" viewBox="0 0 14 14"><circle cx="5.4" cy="5.4" r="4.3" fill="#f6f6f6" stroke="#9d9d9d" stroke-width="1.25"/><path d="M8.6 8.4 L12.4 11.8" stroke="#1c1c1c" stroke-width="2.4" stroke-linecap="round"/></svg>
<div class="a" style="left:1075.2px;top:414.20px;width:365.79999999999995px;height:2px;background:repeating-linear-gradient(90deg,#c6c6c6 0 3px,transparent 3px 6px)"></div>
<div class="" style="left:1076.00px;top:416.40px;width:365.00px;height:91.00px;background:#fff;border-bottom:1px solid #e2e2e2;box-sizing:border-box;border-radius:4px 0 0 4px;"></div>
<div class="t" style="left:1084.00px;top:443.49px;font:normal 15.61px/15.61px 'Liberation Sans', sans-serif;color:#111;-webkit-text-stroke:.18px;">newItem</div>
<div class="" style="left:1084.00px;top:476.60px;width:56.00px;height:24.20px;background:#efefef;border-radius:4px;"></div>
<div class="t" style="left:1084.00px;width:56.00px;text-align:center;top:482.69px;font:normal 12.63px/12.63px 'Liberation Sans', sans-serif;color:#111;">Delete</div>
<div class="t" style="left:1076.70px;top:514.36px;font:normal 14.7px/14.7px 'Liberation Sans', sans-serif;color:#5c6caa;-webkit-text-stroke:.18px;">1/22</div>
<div class="t" style="left:1154.00px;top:516.39px;font:normal 11.71px/11.71px 'Liberation Sans', sans-serif;color:#8a8a8a;-webkit-text-stroke:.18px;">Students: 14</div>
<svg class="a" style="left:1226.30px;top:515.60px" width="12.5" height="12.5" viewBox="0 0 14 14"><circle cx="5.4" cy="5.4" r="4.3" fill="#f6f6f6" stroke="#9d9d9d" stroke-width="1.25"/><path d="M8.6 8.4 L12.4 11.8" stroke="#1c1c1c" stroke-width="2.4" stroke-linecap="round"/></svg>
<div class="a" style="left:1075.2px;top:530.80px;width:365.79999999999995px;height:2px;background:repeating-linear-gradient(90deg,#c6c6c6 0 3px,transparent 3px 6px)"></div>
<div class="" style="left:1077.30px;top:534.20px;width:349.20px;height:37.80px;background:#fff;border:1px solid #e2e2e2;border-radius:4px;box-sizing:border-box;"></div>
<div class="t" style="left:1084.00px;top:547.09px;font:normal 15.61px/15.61px 'Liberation Sans', sans-serif;color:#111;-webkit-text-stroke:.18px;">newItem</div>
<div class="" style="left:1363.60px;top:540.80px;width:56.10px;height:24.20px;background:#efefef;border-radius:4px;"></div>
<div class="t" style="left:1363.60px;width:56.10px;text-align:center;top:546.88px;font:normal 12.63px/12.63px 'Liberation Sans', sans-serif;color:#111;">Delete</div>
<div class="t" style="left:1076.70px;top:579.36px;font:normal 14.7px/14.7px 'Liberation Sans', sans-serif;color:#5c6caa;-webkit-text-stroke:.18px;">1/22</div>
<div class="t" style="left:1154.00px;top:581.39px;font:normal 11.71px/11.71px 'Liberation Sans', sans-serif;color:#8a8a8a;-webkit-text-stroke:.18px;">Students: 16</div>
<svg class="a" style="left:1226.30px;top:580.60px" width="12.5" height="12.5" viewBox="0 0 14 14"><circle cx="5.4" cy="5.4" r="4.3" fill="#f6f6f6" stroke="#9d9d9d" stroke-width="1.25"/><path d="M8.6 8.4 L12.4 11.8" stroke="#1c1c1c" stroke-width="2.4" stroke-linecap="round"/></svg>
<div class="a" style="left:1075.2px;top:596.3px;width:365.79999999999995px;height:0;border-top:1px dashed #bdbdbd"></div>
<div class="" style="left:66.00px;top:41.65px;width:32.00px;height:1.30px;background:#222;"></div>
<div class="" style="left:66.00px;top:116.15px;width:45.50px;height:1.30px;background:#222;"></div>
<div class="" style="left:66.00px;top:150.05px;width:51.00px;height:1.30px;background:#222;"></div>
<div class="" style="left:66.00px;top:250.15px;width:63.50px;height:1.30px;background:#444;"></div>
<div class="" style="left:66.00px;top:363.85px;width:51.00px;height:1.30px;background:#333;"></div>
<div class="" style="left:65.50px;top:480.55px;width:64.50px;height:1.30px;background:#222;"></div>
<div class="" style="left:36.00px;top:30.00px;width:30.00px;height:29.50px;background:#eee8fc;border:1.5px solid #4d4df6;box-sizing:border-box;"></div>
<div class="t" style="left:36.00px;width:30.00px;text-align:center;top:30.15px;font:normal 24px/24px 'Liberation Sans', sans-serif;color:#4646f2;-webkit-text-stroke:.3px #eee8fc;">a</div>
<div class="" style="left:36.00px;top:102.50px;width:30.00px;height:29.50px;background:#eee8fc;border:1.5px solid #4d4df6;box-sizing:border-box;"></div>
<div class="t" style="left:36.00px;width:30.00px;text-align:center;top:102.65px;font:normal 24px/24px 'Liberation Sans', sans-serif;color:#4646f2;-webkit-text-stroke:.3px #eee8fc;">b</div>
<div class="" style="left:36.00px;top:138.00px;width:30.00px;height:29.50px;background:#eee8fc;border:1.5px solid #4d4df6;box-sizing:border-box;"></div>
<div class="t" style="left:36.00px;width:30.00px;text-align:center;top:138.15px;font:normal 24px/24px 'Liberation Sans', sans-serif;color:#4646f2;-webkit-text-stroke:.3px #eee8fc;">c</div>
<div class="" style="left:36.00px;top:238.50px;width:30.00px;height:29.50px;background:#eee8fc;border:1.5px solid #4d4df6;box-sizing:border-box;"></div>
<div class="t" style="left:36.00px;width:30.00px;text-align:center;top:238.65px;font:normal 24px/24px 'Liberation Sans', sans-serif;color:#4646f2;-webkit-text-stroke:.3px #eee8fc;">d</div>
<div class="" style="left:36.00px;top:350.00px;width:30.00px;height:29.50px;background:#eee8fc;border:1.5px solid #4d4df6;box-sizing:border-box;"></div>
<div class="t" style="left:36.00px;width:30.00px;text-align:center;top:350.15px;font:normal 24px/24px 'Liberation Sans', sans-serif;color:#4646f2;-webkit-text-stroke:.3px #eee8fc;">e</div>
<div class="" style="left:36.00px;top:466.40px;width:30.00px;height:29.60px;background:#eee8fc;border:1.5px solid #4d4df6;box-sizing:border-box;"></div>
<div class="t" style="left:36.00px;width:30.00px;text-align:center;top:466.60px;font:normal 24px/24px 'Liberation Sans', sans-serif;color:#4646f2;-webkit-text-stroke:.3px #eee8fc;">f</div>
<div class="a" style="left:28.8px;top:659.89px;width:1440.4px;height:22.1px;overflow:visible;font:normal 22.1px/22.1px 'Liberation Serif', serif;color:#000;-webkit-text-stroke:.22px #000;text-align:justify;text-align-last:justify;white-space:nowrap">Fig.<span style="display:inline-block;width:8.6px"></span>5.<span style="display:inline-block;width:15.9px"></span><i>Components Inspector</i> Panel. The <i>Components Inspector</i> (a) is structured according to checkpoints. Each task is linked to a corresponding inspector</div>
<div class="a" style="left:28.8px;top:684.99px;width:1440.4px;height:22.1px;overflow:visible;font:normal 22.1px/22.1px 'Liberation Serif', serif;color:#000;-webkit-text-stroke:.22px #000;text-align:justify;text-align-last:justify;white-space:nowrap">board (b) that includes two key features: the <i>Element Inspector</i> (c) and the <i>Element Previewer</i> (e). Instructors can view the inspection results in (d) (a full</div>
<div class="a" style="left:28.8px;top:709.59px;width:1440.4px;height:22.1px;overflow:visible;font:normal 22.1px/22.1px 'Liberation Serif', serif;color:#000;-webkit-text-stroke:.22px #000;text-align:justify;text-align-last:justify;white-space:nowrap">view of the results is shown in (g)) and preview the element in (f). The inspector automatically simulates interactions before performing the inspection. For</div>
<div class="a" style="left:28.8px;top:734.79px;width:1440.4px;height:22.1px;overflow:visible;font:normal 22.1px/22.1px 'Liberation Serif', serif;color:#000;-webkit-text-stroke:.22px #000;text-align:justify;text-align-last:justify;white-space:nowrap">example, (h) displays clustered screenshots of the newly added <span style="font-family:'Liberation Mono',monospace;font-size:21.4px;color:#000;letter-spacing:.45px;-webkit-text-stroke:.18px #fff">.todoitem</span> following the interaction <i>&rdquo;Add new item after clicking the add button (Task 4)&rdquo;</i>.</div>
<div class="t" style="left:28.8px;top:760.29px;font:normal 22.1px/22.1px 'Liberation Serif', serif;color:#000;-webkit-text-stroke:.22px #000;word-spacing:3.2px">Screenshots of identical elements are grouped together to facilitate easier analysis.</div>
</div></body></html>
